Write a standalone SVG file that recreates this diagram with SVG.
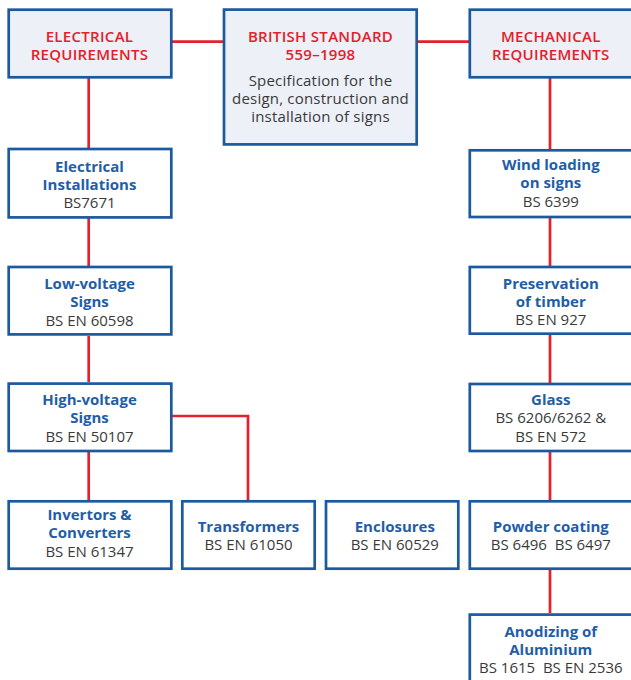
<svg xmlns="http://www.w3.org/2000/svg" width="631" height="680" viewBox="0 0 631 680">
<style>
.box{fill:#ffffff;stroke:#1b5a9e;stroke-width:2.7}
.hbox{fill:#edf0f7;stroke:#1b5a9e;stroke-width:2.7}
.con{stroke:#e3202b;stroke-width:2.7;fill:none}
text{font-family:"Open Sans","Liberation Sans",sans-serif;text-anchor:middle}
.red{fill:#e3202b;font-size:15px;font-weight:600;letter-spacing:0.3px}
.t{fill:#1f5ea6;font-size:15px;font-weight:700}
.c{fill:#3a3a3a;font-size:15px}
.d{fill:#3a3a3a;font-size:15px;letter-spacing:0.2px}
</style>
<rect width="631" height="680" fill="#ffffff"/>
<g id="connectors">
<line class="con" x1="172" y1="41.7" x2="223" y2="41.7"/>
<line class="con" x1="418" y1="41.7" x2="469" y2="41.7"/>
<line class="con" x1="88.7" y1="78" x2="88.7" y2="148"/>
<line class="con" x1="88.7" y1="218" x2="88.7" y2="266"/>
<line class="con" x1="88.7" y1="336" x2="88.7" y2="382"/>
<line class="con" x1="88.7" y1="452" x2="88.7" y2="500"/>
<polyline class="con" points="172,416 248,416 248,500"/>
<line class="con" x1="550" y1="78" x2="550" y2="149"/>
<line class="con" x1="550" y1="218" x2="550" y2="266"/>
<line class="con" x1="550" y1="335" x2="550" y2="383"/>
<line class="con" x1="550" y1="452" x2="550" y2="500"/>
<line class="con" x1="550" y1="570" x2="550" y2="613"/>
</g>
<g id="electrical-requirements">
<rect class="hbox" x="8.7" y="9.7" width="162.6" height="67.6"/>
<text class="red" x="89.5" y="41.5">ELECTRICAL</text>
<text class="red" x="89.5" y="59.8">REQUIREMENTS</text>
</g>
<g id="british-standard">
<rect class="hbox" x="224" y="9.6" width="192.7" height="134.8"/>
<text class="red" x="320.5" y="41.5">BRITISH STANDARD</text>
<text class="red" x="320.5" y="59.8">559–1998</text>
<text class="d" x="320.5" y="85.8">Specification for the</text>
<text class="d" x="320.5" y="104.1">design, construction and</text>
<text class="d" x="320.5" y="122.4">installation of signs</text>
</g>
<g id="mechanical-requirements">
<rect class="hbox" x="469.8" y="9.7" width="162.6" height="67.6"/>
<text class="red" x="550.8" y="41.5">MECHANICAL</text>
<text class="red" x="550.8" y="59.8">REQUIREMENTS</text>
</g>
<g id="electrical-installations">
<rect class="box" x="8.7" y="149" width="162.6" height="68.4"/>
<text class="t" x="89.5" y="171.7">Electrical</text>
<text class="t" x="89.5" y="190">Installations</text>
<text class="c" x="89.5" y="208.3">BS7671</text>
</g>
<g id="low-voltage-signs">
<rect class="box" x="8.7" y="267" width="162.6" height="67.4"/>
<text class="t" x="89.5" y="289">Low-voltage</text>
<text class="t" x="89.5" y="307.3">Signs</text>
<text class="c" x="89.5" y="326">BS EN 60598</text>
</g>
<g id="high-voltage-signs">
<rect class="box" x="8.7" y="383.6" width="162.6" height="67.4"/>
<text class="t" x="89.5" y="405">High-voltage</text>
<text class="t" x="89.5" y="423.3">Signs</text>
<text class="c" x="89.5" y="442">BS EN 50107</text>
</g>
<g id="invertors-converters">
<rect class="box" x="8.7" y="501.3" width="162.6" height="67.4"/>
<text class="t" x="89.5" y="520">Invertors &amp;</text>
<text class="t" x="89.5" y="538.4">Converters</text>
<text class="c" x="89.5" y="557">BS EN 61347</text>
</g>
<g id="transformers">
<rect class="box" x="182.3" y="501.3" width="132.4" height="67.4"/>
<text class="t" x="248.5" y="531.7">Transformers</text>
<text class="c" x="248.5" y="550">BS EN 61050</text>
</g>
<g id="enclosures">
<rect class="box" x="326" y="501.3" width="132.3" height="67.4"/>
<text class="t" x="394.8" y="531.7">Enclosures</text>
<text class="c" x="394.8" y="550">BS EN 60529</text>
</g>
<g id="wind-loading">
<rect class="box" x="469.8" y="150.3" width="162.6" height="66.7"/>
<text class="t" x="550.8" y="170">Wind loading</text>
<text class="t" x="550.8" y="188.4">on signs</text>
<text class="c" x="550.8" y="207">BS 6399</text>
</g>
<g id="preservation-of-timber">
<rect class="box" x="469.8" y="267" width="162.6" height="66.7"/>
<text class="t" x="550.8" y="288.8">Preservation</text>
<text class="t" x="550.8" y="307.1">of timber</text>
<text class="c" x="550.8" y="325.4">BS EN 927</text>
</g>
<g id="glass">
<rect class="box" x="469.8" y="384" width="162.6" height="67"/>
<text class="t" x="550.8" y="405">Glass</text>
<text class="c" x="550.8" y="423.3">BS 6206/6262 &amp;</text>
<text class="c" x="550.8" y="441.7">BS EN 572</text>
</g>
<g id="powder-coating">
<rect class="box" x="469.8" y="501.3" width="162.6" height="67.4"/>
<text class="t" x="550.8" y="531.7">Powder coating</text>
<text class="c" x="550.8" y="550" xml:space="preserve">BS 6496  BS 6497</text>
</g>
<g id="anodizing-of-aluminium">
<rect class="box" x="469.8" y="614.6" width="162.6" height="80"/>
<text class="t" x="550.8" y="636.7">Anodizing of</text>
<text class="t" x="550.8" y="655">Aluminium</text>
<text class="c" x="550.8" y="673.3" xml:space="preserve">BS 1615  BS EN 2536</text>
</g>
</svg>
